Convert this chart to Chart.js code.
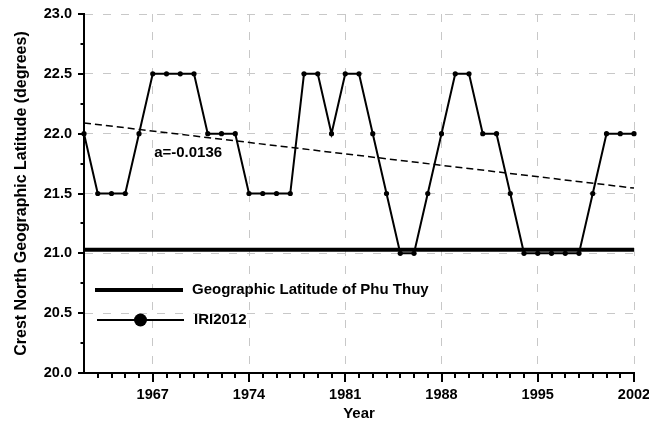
<!DOCTYPE html>
<html>
<head>
<meta charset="utf-8">
<script src="https://cdn.jsdelivr.net/npm/chart.js@4.4.1/dist/chart.umd.min.js"></script>
<style>
  body { margin: 0; background: #fff; }
  #wrap { width: 649px; height: 423px; }
</style>
</head>
<body>
<div id="wrap"><canvas id="graph-crest" width="649" height="423"></canvas></div>
<script>
// years and crest latitude (IRI2012)
const years = [1962, 1963, 1964, 1965, 1966, 1967, 1968, 1969, 1970, 1971,
  1972, 1973, 1974, 1975, 1976, 1977, 1978, 1979, 1980, 1981,
  1982, 1983, 1984, 1985, 1986, 1987, 1988, 1989, 1990, 1991,
  1992, 1993, 1994, 1995, 1996, 1997, 1998, 1999, 2000, 2001, 2002];
const iri2012 = [22.0, 21.5, 21.5, 21.5, 22.0, 22.5, 22.5, 22.5, 22.5, 22.0,
  22.0, 22.0, 21.5, 21.5, 21.5, 21.5, 22.5, 22.5, 22.0, 22.5,
  22.5, 22.0, 21.5, 21.0, 21.0, 21.5, 22.0, 22.5, 22.5, 22.0,
  22.0, 21.5, 21.0, 21.0, 21.0, 21.0, 21.0, 21.5, 22.0, 22.0, 22.0];

// linear trend (a=-0.0136), end points
const trendYears = [1962, 2002];
const trendValues = [22.09, 21.545];

// latitude of Phu Thuy station
const phuThuyYears = [1962, 2002];
const phuThuyValues = [21.03, 21.03];

const xTicks = [1967, 1974, 1981, 1988, 1995, 2002];
const yTicks = [20.0, 20.5, 21.0, 21.5, 22.0, 22.5, 23.0];

const toPoints = (xs, ys) => xs.map((x, i) => ({ x: x, y: ys[i] }));

const fontFam = '"Liberation Sans", Arial, Helvetica, sans-serif';
Chart.defaults.font.family = fontFam;
Chart.defaults.color = '#000';

// tick marks (major + minor) drawn outside the axes
const tickMarks = {
  id: 'tickMarks',
  afterDraw(chart) {
    const ctx = chart.ctx;
    const xs = chart.scales.x, ys = chart.scales.y;
    const area = chart.chartArea;
    ctx.save();
    ctx.strokeStyle = '#000';
    ctx.lineWidth = 2;
    for (let v = 20; v <= 23.001; v += 0.25) {
      const py = Math.round(ys.getPixelForValue(v));
      const major = Math.abs(v * 2 - Math.round(v * 2)) < 1e-6;
      ctx.beginPath();
      ctx.moveTo(area.left, py);
      ctx.lineTo(area.left - (major ? 6 : 3.5), py);
      ctx.stroke();
    }
    for (let yr = years[0] + 1; yr <= years[years.length - 1]; yr++) {
      const px = Math.round(xs.getPixelForValue(yr));
      const major = xTicks.includes(yr);
      ctx.beginPath();
      ctx.moveTo(px, area.bottom);
      ctx.lineTo(px, area.bottom + (major ? 9 : 5));
      ctx.stroke();
    }
    ctx.restore();
  }
};

// legend inside the plot + slope label
const innerLegend = {
  id: 'innerLegend',
  afterDatasetsDraw(chart) {
    const ctx = chart.ctx;
    const area = chart.chartArea;
    const xs = chart.scales.x, ys = chart.scales.y;
    ctx.save();
    ctx.fillStyle = '#000';
    ctx.strokeStyle = '#000';
    ctx.font = 'bold 15px ' + fontFam;
    ctx.textBaseline = 'middle';
    ctx.textAlign = 'left';

    let lx = area.left + 11, ly = area.top + 276;
    ctx.lineWidth = 4;
    ctx.beginPath(); ctx.moveTo(lx, ly); ctx.lineTo(lx + 88, ly); ctx.stroke();
    ctx.fillText('Geographic Latitude of Phu Thuy', lx + 97, ly);

    ly += 30;
    ctx.lineWidth = 2;
    ctx.beginPath(); ctx.moveTo(lx + 2, ly); ctx.lineTo(lx + 89, ly); ctx.stroke();
    ctx.beginPath(); ctx.arc(lx + 45.5, ly, 6.5, 0, Math.PI * 2); ctx.fill();
    ctx.fillText('IRI2012', lx + 99, ly);

    ctx.fillText('a=-0.0136', xs.getPixelForValue(1967.1), ys.getPixelForValue(21.84));
    ctx.restore();
  }
};

const config = {
  type: 'line',
  data: {
    datasets: [
      {
        label: 'IRI2012',
        data: toPoints(years, iri2012),
        borderColor: '#000',
        backgroundColor: '#000',
        borderWidth: 2,
        pointRadius: 2.6,
        pointBorderWidth: 0,
        tension: 0,
        clip: false
      },
      {
        label: 'trend',
        data: toPoints(trendYears, trendValues),
        borderColor: '#000',
        borderWidth: 1.5,
        borderDash: [7, 4],
        pointRadius: 0,
        clip: false
      },
      {
        label: 'Geographic Latitude of Phu Thuy',
        data: toPoints(phuThuyYears, phuThuyValues),
        borderColor: '#000',
        borderWidth: 4,
        pointRadius: 0,
        clip: false
      }
    ]
  },
  options: {
    responsive: false,
    animation: false,
    layout: { padding: 0 },
    plugins: {
      legend: { display: false },
      tooltip: { enabled: false }
    },
    scales: {
      x: {
        type: 'linear',
        min: 1962,
        max: 2002,
        afterBuildTicks: (scale) => { scale.ticks = xTicks.map(v => ({ value: v })); },
        afterFit: (scale) => {
          scale.height = 50;
          scale.paddingLeft = 0;
          scale.paddingRight = 15;
        },
        ticks: {
          padding: 13,
          font: { size: 14.5, weight: 'bold' },
          color: '#000',
          maxRotation: 0,
          callback: (v) => String(v)
        },
        grid: { color: '#c8c8c8', lineWidth: 1, drawTicks: false },
        border: { display: true, color: '#000', width: 2, dash: [8, 10] },
        title: {
          display: true,
          text: 'Year',
          font: { size: 15, weight: 'bold' },
          color: '#000',
          padding: { top: 0, bottom: 0 }
        }
      },
      y: {
        min: 20,
        max: 23,
        afterBuildTicks: (scale) => { scale.ticks = yTicks.map(v => ({ value: v })); },
        afterFit: (scale) => {
          scale.width = 84;
          scale.paddingTop = 14;
          scale.paddingBottom = 0;
        },
        ticks: {
          padding: 12,
          font: { size: 14.5, weight: 'bold' },
          color: '#000',
          callback: (v) => Number(v).toFixed(1)
        },
        grid: { color: '#c8c8c8', lineWidth: 1, drawTicks: false },
        border: { display: true, color: '#000', width: 2, dash: [8, 10] },
        title: {
          display: true,
          text: 'Crest North Geographic Latitude (degrees)',
          font: { size: 16, weight: 'bold' },
          color: '#000',
          padding: { top: 12, bottom: 0 }
        }
      }
    }
  },
  plugins: [tickMarks, innerLegend]
};

const chartCrest = new Chart(document.querySelector('#graph-crest'), config);
</script>
</body>
</html>
